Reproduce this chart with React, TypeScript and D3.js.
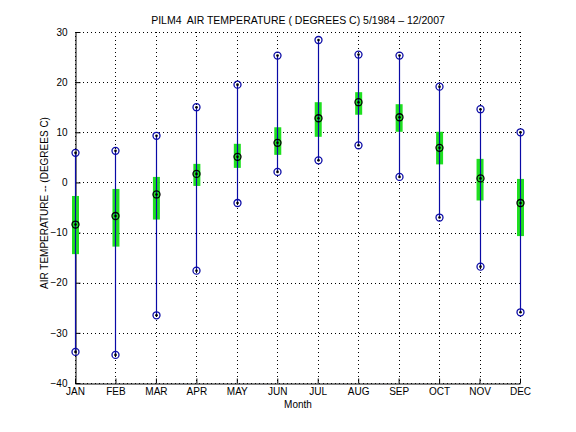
import * as d3 from "d3";
import { useEffect, useRef } from "react";

// monthly air temperature stats
const months = ["JAN", "FEB", "MAR", "APR", "MAY", "JUN", "JUL", "AUG", "SEP", "OCT", "NOV", "DEC"];
const maxT = [5.9, 6.3, 9.3, 15.0, 19.5, 25.3, 28.4, 25.5, 25.3, 19.1, 14.6, 10.0];
const meanT = [-8.4, -6.7, -2.4, 1.7, 5.1, 7.9, 12.8, 16.0, 13.0, 6.9, 0.8, -4.1];
const minT = [-33.8, -34.4, -26.5, -17.6, -4.1, 2.1, 4.4, 7.4, 1.1, -7.0, -16.8, -25.9];
const boxTop = [-2.7, -1.3, 1.1, 3.7, 7.7, 11.0, 16.0, 18.0, 15.6, 10.1, 4.7, 0.7];
const boxBottom = [-14.3, -12.8, -7.4, -0.7, 2.9, 5.5, 9.1, 13.5, 10.1, 3.6, -3.6, -10.7];
const yTicks = [-40, -30, -20, -10, 0, 10, 20, 30];

export default function App() {
  const ref = useRef<SVGSVGElement | null>(null);

  useEffect(() => {
    const svg = d3.select(ref.current as SVGSVGElement);
    svg.selectAll("*").remove();

    const width = 576;
    const height = 432;
    const margin = { top: 32, right: 56, bottom: 49, left: 75 };
    const font = "'Liberation Sans', Arial, sans-serif";

    const x = d3.scaleLinear().domain([1, 12]).range([margin.left, width - margin.right]);
    const y = d3.scaleLinear().domain([-40, 30]).range([height - margin.bottom, margin.top]);

    svg.append("rect").attr("width", width).attr("height", height).attr("fill", "#fff");

    // grid
    const grid = svg.append("g").attr("stroke", "#000").attr("stroke-width", 1).attr("stroke-dasharray", "1 3");
    grid
      .selectAll("line.h")
      .data(yTicks)
      .enter()
      .append("line")
      .attr("x1", margin.left)
      .attr("x2", width - margin.right)
      .attr("y1", (d) => Math.round(y(d)) + 0.5)
      .attr("y2", (d) => Math.round(y(d)) + 0.5);
    grid
      .selectAll("line.v")
      .data(months)
      .enter()
      .append("line")
      .attr("x1", (_, i) => Math.round(x(i + 1)) + 0.5)
      .attr("x2", (_, i) => Math.round(x(i + 1)) + 0.5)
      .attr("y1", margin.top)
      .attr("y2", height - margin.bottom);

    // axes (matlab-style, box off)
    const xAxis = svg
      .append("g")
      .attr("transform", `translate(0,${Math.round(y(-40)) + 0.5})`)
      .call(
        d3
          .axisBottom(x)
          .tickValues(d3.range(1, 13))
          .tickSizeInner(-5)
          .tickSizeOuter(0)
          .tickPadding(4)
          .tickFormat((d) => months[Number(d) - 1])
      );
    const yAxis = svg
      .append("g")
      .attr("transform", `translate(${Math.round(x(1)) + 0.5},0)`)
      .call(d3.axisLeft(y).tickValues(yTicks).tickSizeInner(-5).tickSizeOuter(0).tickPadding(8));
    [xAxis, yAxis].forEach((g) => {
      g.select(".domain").attr("stroke", "#000");
      g.selectAll(".tick line").attr("stroke", "#000");
      g.selectAll("text").attr("fill", "#000").attr("font-size", "10px").attr("font-family", font);
    });

    // std bars
    const bw = 7;
    svg
      .append("g")
      .selectAll("rect")
      .data(months)
      .enter()
      .append("rect")
      .attr("x", (_, i) => x(i + 1) - bw / 2 + 0.5)
      .attr("y", (_, i) => y(boxTop[i]))
      .attr("width", bw)
      .attr("height", (_, i) => y(boxBottom[i]) - y(boxTop[i]))
      .attr("fill", "#1fe01f");

    // range lines
    const blue = "#0a0aa6";
    svg
      .append("g")
      .selectAll("line")
      .data(months)
      .enter()
      .append("line")
      .attr("x1", (_, i) => Math.round(x(i + 1)) + 0.5)
      .attr("x2", (_, i) => Math.round(x(i + 1)) + 0.5)
      .attr("y1", (_, i) => y(maxT[i]))
      .attr("y2", (_, i) => y(minT[i]))
      .attr("stroke", blue)
      .attr("stroke-width", 1.2);

    // markers
    const marks = svg.append("g");
    const drawMarker = (vals: number[], ring: string) => {
      vals.forEach((v, i) => {
        const cx = Math.round(x(i + 1)) + 0.5;
        const cy = y(v);
        marks
          .append("circle")
          .attr("cx", cx)
          .attr("cy", cy)
          .attr("r", 3.5)
          .attr("fill", "none")
          .attr("stroke", ring)
          .attr("stroke-width", 1.3);
        marks.append("circle").attr("cx", cx).attr("cy", cy).attr("r", 1.3).attr("fill", "#000");
      });
    };
    drawMarker(maxT, blue);
    drawMarker(minT, blue);
    drawMarker(meanT, "#000");

    // labels
    svg
      .append("text")
      .attr("x", 298)
      .attr("y", 24)
      .attr("text-anchor", "middle")
      .attr("font-size", "10.5px")
      .attr("font-family", font)
      .style("white-space", "pre")
      .text("PILM4  AIR TEMPERATURE ( DEGREES C) 5/1984 \u2013 12/2007");
    svg
      .append("text")
      .attr("x", 298)
      .attr("y", 408)
      .attr("text-anchor", "middle")
      .attr("font-size", "10px")
      .attr("font-family", font)
      .text("Month");
    svg
      .append("text")
      .attr("transform", `translate(48,203) rotate(-90)`)
      .attr("text-anchor", "middle")
      .attr("font-size", "10px")
      .attr("font-family", font)
      .text("AIR TEMPERATURE -- (DEGREES C)");
  }, []);

  return (
    <div style={{ position: "absolute", left: 0, top: 0 }}>
      <svg ref={ref} width={576} height={432} style={{ display: "block" }} />
    </div>
  );
}
